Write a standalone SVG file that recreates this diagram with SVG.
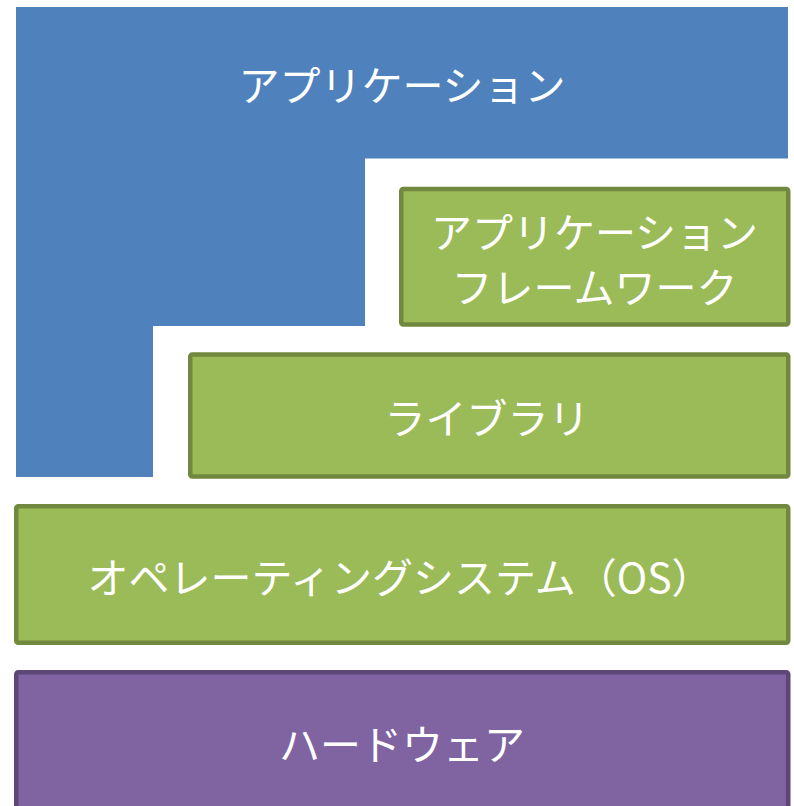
<svg xmlns="http://www.w3.org/2000/svg" width="794" height="806" viewBox="0 0 794 806">
<style>
text{font-family:"Noto Sans CJK JP","Noto Sans",sans-serif;font-size:41px;fill:#fff;text-anchor:middle;dominant-baseline:central}
.g{fill:#9BBB59;stroke:#71893F;stroke-width:4.5}
.p{fill:#8064A2;stroke:#5C4776;stroke-width:4.5}
</style>
<rect width="794" height="806" fill="#fff"/>
<g id="application">
<polygon points="16,7 788,7 788,158.5 365,158.5 365,326 153,326 153,477 16,477" fill="#4F81BD"/>
<text x="402" y="83">アプリケーション</text>
</g>
<g id="framework">
<rect class="g" x="401.25" y="189" width="387" height="135.5" rx="2"/>
<text x="594.5" y="230">アプリケーション</text>
<text x="594.5" y="285">フレームワーク</text>
</g>
<g id="library">
<rect class="g" x="190.25" y="354.5" width="598" height="122" rx="2"/>
<text x="487" y="416">ライブラリ</text>
</g>
<g id="os">
<rect class="g" x="16.25" y="506.25" width="772" height="136.5" rx="2"/>
<text x="400" y="575">オペレーティングシステム（OS）</text>
</g>
<g id="hardware">
<rect class="p" x="16.25" y="672.25" width="772" height="150" rx="2"/>
<text x="402" y="742">ハードウェア</text>
</g>
<g id="connectors"/>
</svg>
